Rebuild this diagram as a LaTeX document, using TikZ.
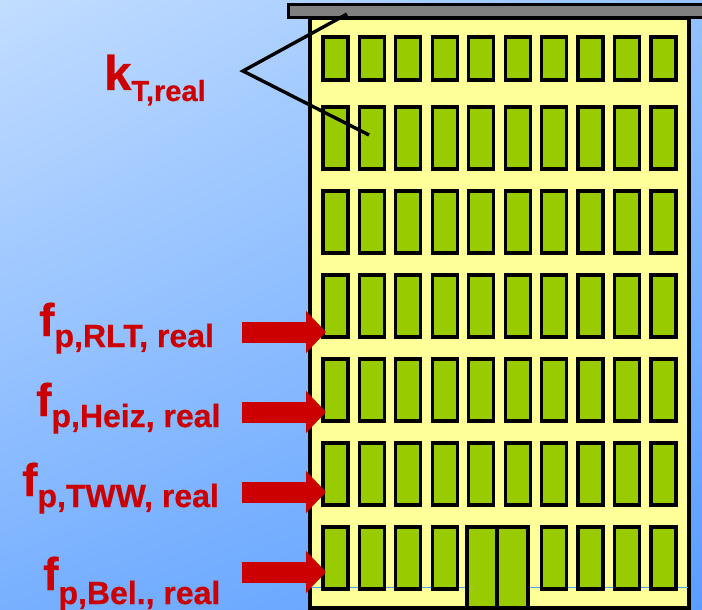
\documentclass[tikz,border=0pt]{standalone}
\usepackage{fontspec}
\setmainfont{Liberation Sans}[BoldFeatures={FakeBold=0.6}]
\usetikzlibrary{arrows.meta,shadings}

\definecolor{wall}{HTML}{FFFF99}
\definecolor{pane}{HTML}{99CC00}
\definecolor{roof}{HTML}{808080}
\definecolor{labelred}{HTML}{CC0000}
\definecolor{skyA}{HTML}{C2DDFF}
\definecolor{skyB}{HTML}{94C2FF}
\definecolor{skyC}{HTML}{78B0FF}
\definecolor{skyD}{HTML}{5A9EFF}
\definecolor{ground}{HTML}{4DA6FF}

\begin{document}
\begin{tikzpicture}[x=1pt,y=-1pt]
\tikzstyle{window}=[draw=black,fill=pane,line width=3.2pt]
\tikzstyle{lbl}=[text=labelred,font=\bfseries,anchor=base west,inner sep=0pt]
\tikzstyle{flow}=[draw=labelred,line width=21pt,-{Triangle[length=20pt,width=41pt]}]

\useasboundingbox (0,0) rectangle (702,610);
\shade[upper left=skyA,upper right=skyB,lower left=skyC,lower right=skyD] (0,0) rectangle (702,610);

% house front and roof
\draw[fill=wall,line width=3.2pt] (310,18) rectangle (689,608);
\draw[ground,line width=1pt] (311,587) -- (688,587);
\draw[fill=roof,line width=3pt] (288,5) rectangle (704,18);

% windows
\foreach \c in {0,...,9} {
  \draw[window] ({323+36.44*\c},37) rectangle +(25,43);
  \foreach \r in {0,...,4}
    \draw[window] ({323+36.44*\c},{107+84*\r}) rectangle +(25,62);
}
\foreach \c in {0,1,2,3,6,7,8,9}
  \draw[window] ({323+36.44*\c},527) rectangle +(25,62);

% door
\draw[window] (467,527) rectangle (528,608);
\draw[line width=3.2pt] (497,527) -- (497,608);

% k_T
\node[lbl] (kT) at (104,90) {\fontsize{49}{49}\selectfont k\raisebox{-11pt}{\fontsize{29}{29}\selectfont T,real}};
\coordinate (kv) at (243,71);
\coordinate (kt) at (347,14);
\coordinate (kb) at (369,135);
\draw[line width=3.4pt] (kt) -- (kv) -- (kb);

% f_p
\node[lbl] (fRLT) at (39,336) {\fontsize{46}{46}\selectfont f\raisebox{-11pt}{\fontsize{32}{32}\selectfont p,RLT, real}};
\node[lbl] (fHeiz) at (36,416) {\fontsize{46}{46}\selectfont f\raisebox{-11pt}{\fontsize{32}{32}\selectfont p,Heiz, real}};
\node[lbl] (fTWW) at (22,496) {\fontsize{46}{46}\selectfont f\raisebox{-11pt}{\fontsize{32}{32}\selectfont p,TWW, real}};
\node[lbl] (fBel) at (43,590) {\fontsize{46}{46}\selectfont f\raisebox{-14pt}{\fontsize{32}{32}\selectfont p,Bel., real}};

\foreach \n/\y in {1/332,2/412,3/492,4/572} {
  \coordinate (a\n) at (242,\y);
  \coordinate (b\n) at (326,\y);
  \draw[flow] (a\n) -- (b\n);
}
\end{tikzpicture}
\end{document}
